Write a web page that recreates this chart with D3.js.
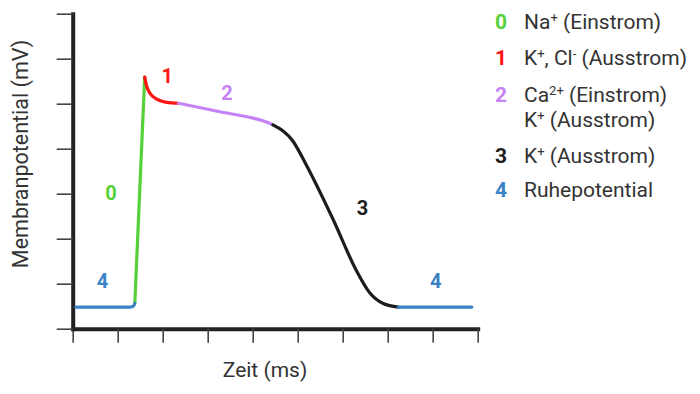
<!DOCTYPE html>
<html lang="de">
  <head>
    <meta charset="UTF-8" />
    <title>Aktionspotential</title>
    <script src="https://d3js.org/d3.v7.min.js"></script>
    <style>
      body {
        margin: 0;
        background: #fff;
      }
      svg {
        font-family: Roboto, "Noto Sans", sans-serif;
      }
    </style>
  </head>
  <body>
    <script>
      // curve segments, [zeit, potential] in axis units
      const phase4a = [[0.07, 0.48], [1.28, 0.48], [1.35, 0.5], [1.38, 0.56]];
      const phase0 = [[1.38, 0.56], [1.6, 5.59]];
      const phase1 = [[1.6, 5.59], [1.64, 5.4], [1.72, 5.23], [1.87, 5.1], [2.09, 5.03], [2.35, 5.01]];
      const phase2 = [[2.35, 5.01], [3.27, 4.82], [4.01, 4.68], [4.23, 4.62], [4.45, 4.53]];
      const phase3 = [[4.45, 4.53], [4.9, 4.16], [5.2, 3.62], [5.79, 2.42],
                      [6.3, 1.3], [6.6, 0.8], [6.9, 0.56], [7.24, 0.48]];
      const phase4b = [[7.24, 0.48], [8.87, 0.48]];

      const phaseColors = ["#55d13a", "#ff1414", "#c683f7", "#1c1c1c", "#3a83c6"];

      // number labels on the curve: [phase, zeit, potential]
      const curveLabels = [[0, 0.85, 2.86], [1, 2.1, 5.47], [2, 3.43, 5.08], [3, 6.44, 2.53], [4, 0.66, 0.9], [4, 8.07, 0.9]];

      // legend, text between ^ is superscript
      const legendNums = ["0", "1", "2", "3", "4"];
      const legendLines = [
        ["Na^+^ (Einstrom)"],
        ["K^+^, Cl^-^ (Ausstrom)"],
        ["Ca^2+^ (Einstrom)", "K^+^ (Ausstrom)"],
        ["K^+^ (Ausstrom)"],
        ["Ruhepotential"]
      ];

      const xTicks = d3.range(0, 10);
      const yTicks = d3.range(0, 8);

      const width = 700, height = 394;
      const svg = d3.select("body").append("svg")
        .attr("width", width)
        .attr("height", height);

      const x = d3.scaleLinear().domain([0, 9]).range([72.7, 477.7]);
      const y = d3.scaleLinear().domain([0, 7]).range([328.7, 13.7]);

      // axes
      const xAxis = svg.append("g")
        .attr("transform", `translate(0,${y(0)})`)
        .call(d3.axisBottom(x).tickValues(xTicks).tickFormat("").tickSize(14).tickSizeOuter(0));
      const yAxis = svg.append("g")
        .attr("transform", `translate(${x(0)},0)`)
        .call(d3.axisLeft(y).tickValues(yTicks).tickFormat("").tickSize(16).tickSizeOuter(0));

      [xAxis, yAxis].forEach(a => {
        a.selectAll(".tick line").attr("stroke", "#444").attr("stroke-width", 1.6);
        a.select(".domain").attr("stroke", "#222").attr("stroke-width", 4).attr("stroke-linecap", "square");
      });

      // curve
      const line = d3.line()
        .x(d => x(d[0]))
        .y(d => y(d[1]))
        .curve(d3.curveMonotoneX);

      const segments = [phase0, phase1, phase2, phase3, phase4a, phase4b];
      const segColors = [0, 1, 2, 3, 4, 4];
      svg.append("g")
        .selectAll("path")
        .data(segments)
        .join("path")
        .attr("d", line)
        .attr("fill", "none")
        .attr("stroke", (d, i) => phaseColors[segColors[i]])
        .attr("stroke-width", 3.2)
        .attr("stroke-linecap", "round")
        .attr("stroke-linejoin", "round");

      svg.append("g")
        .selectAll("text")
        .data(curveLabels)
        .join("text")
        .attr("x", d => x(d[1]))
        .attr("y", d => y(d[2]))
        .attr("text-anchor", "middle")
        .attr("font-size", 20)
        .attr("font-weight", "bold")
        .attr("fill", d => phaseColors[d[0]])
        .text(d => d[0]);

      // axis titles
      svg.append("text")
        .attr("x", 265)
        .attr("y", 377)
        .attr("text-anchor", "middle")
        .attr("font-size", 21)
        .attr("fill", "#333")
        .text("Zeit (ms)");

      svg.append("text")
        .attr("transform", "translate(28,154) rotate(-90)")
        .attr("text-anchor", "middle")
        .attr("font-size", 21.5)
        .attr("fill", "#333")
        .text("Membranpotential (mV)");

      // legend
      const legendY = [[29], [65], [102, 127], [163], [197]];
      const legend = svg.append("g");
      legendNums.forEach((n, i) => {
        legend.append("text")
          .attr("x", 501)
          .attr("y", legendY[i][0])
          .attr("text-anchor", "middle")
          .attr("font-size", 21)
          .attr("font-weight", "bold")
          .attr("fill", phaseColors[i])
          .text(n);

        legendLines[i].forEach((s, j) => {
          const t = legend.append("text")
            .attr("x", 524)
            .attr("y", legendY[i][j])
            .attr("font-size", 21)
            .attr("fill", "#333");
          let shift = 0;
          s.split("^").forEach((part, k) => {
            if (!part) return;
            if (k % 2 === 1) {
              t.append("tspan").attr("dy", -7 - shift).attr("font-size", 13).text(part);
              shift = -7;
            } else {
              t.append("tspan").attr("dy", -shift).text(part);
              shift = 0;
            }
          });
        });
      });
    </script>
  </body>
</html>
